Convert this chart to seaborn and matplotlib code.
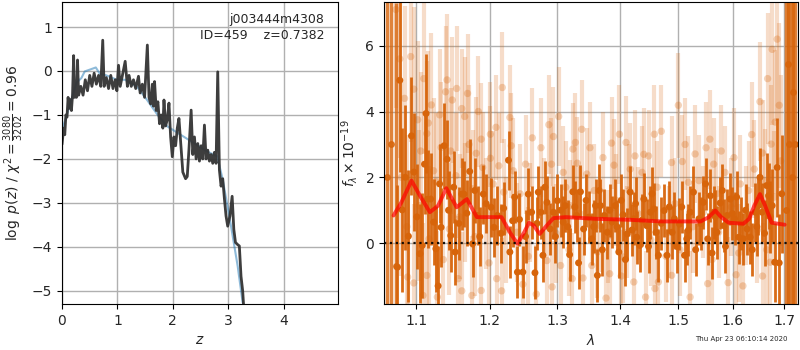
import pandas as pd
import matplotlib
matplotlib.use("Agg")
import matplotlib.pyplot as plt
from matplotlib.ticker import NullLocator
import seaborn as sns

sns.set_style("ticks")
plt.rcParams['font.family'] = ['DejaVu Sans']

# p(z) curve (dark) and smoothed prior curve (blue)
z_pz = [0.00, 0.03, 0.05, 0.07, 0.09, 0.11, 0.13, 0.15, 0.17, 0.19, 0.21, 0.225, 0.24, 0.26,
        0.28, 0.30, 0.34, 0.38, 0.42, 0.46, 0.50, 0.54, 0.58, 0.62, 0.66, 0.70, 0.735, 0.76,
        0.80, 0.84, 0.88, 0.92, 0.96, 0.99, 1.02, 1.05, 1.09, 1.14, 1.18, 1.21, 1.25, 1.29,
        1.33, 1.38, 1.41, 1.45, 1.49, 1.54, 1.57, 1.60, 1.63, 1.65, 1.67, 1.70, 1.73,
        1.76, 1.79, 1.82, 1.84, 1.87, 1.90, 1.93, 1.96, 1.99, 2.02, 2.05, 2.08, 2.11, 2.14,
        2.18, 2.23, 2.26, 2.29, 2.33, 2.36, 2.39, 2.42, 2.45, 2.48, 2.51, 2.54, 2.57, 2.60,
        2.63, 2.66, 2.69, 2.72, 2.75, 2.78, 2.81, 2.84, 2.87, 2.90, 2.93, 2.96, 2.99, 3.03,
        3.07, 3.10, 3.13, 3.17, 3.20, 3.23, 3.26, 3.28]
logp = [-1.67, -1.30, -1.45, -1.00, -1.05, -0.60, -0.85, -0.65, -0.90, -0.55, 0.35, -0.60, -0.40, -0.60,
        0.25, -0.55, -0.35, -0.55, -0.20, -0.45, -0.10, -0.35, -0.05, -0.30, -0.10, -0.35, 0.70, -0.35,
        -0.15, -0.40, -0.10, -0.40, -0.20, -0.45, 0.13, -0.35, -0.10, 0.22, -0.35, -0.10, -0.35, -0.20,
        -0.40, -0.12, -0.50, -0.30, -0.60, 0.59, -0.60, -0.75, -0.30, -0.80, -0.24, -0.90, -0.70,
        -1.20, -1.00, -1.30, -0.66, -1.25, -1.10, -0.73, -1.50, -1.95, -1.50, -1.70, -1.30, -1.08, -1.60,
        -2.30, -2.45, -2.40, -1.80, -0.89, -1.90, -1.50, -2.00, -1.65, -2.05, -1.70, -2.00, -1.23, -2.00,
        -1.80, -2.05, -1.90, -2.10, -1.85, -2.10, -0.02, -2.25, -2.62, -2.45, -2.90, -3.30, -3.53, -3.30,
        -2.85, -3.60, -3.90, -3.95, -3.98, -4.67, -5.00, -5.40]

z_prior = [0.02, 0.10, 0.17, 0.26, 0.35, 0.41, 0.50, 0.61, 0.68, 0.80, 0.99, 1.14, 1.35, 1.53,
           1.72, 1.90, 2.14, 2.38, 2.62, 2.80, 2.90, 3.05, 3.17, 3.26]
logp_prior = [-1.26, -0.95, -0.65, -0.27, -0.16, -0.01, 0.03, 0.08, -0.06, -0.10, -0.20, -0.20,
              -0.35, -0.65, -0.99, -1.26, -1.45, -1.64, -1.83, -1.94, -2.47, -3.53, -4.44, -5.27]

# binned spectrum (dark points)
lam_bin = [1.079, 1.076, 1.082, 1.090, 1.094, 1.097, 1.105, 1.108, 1.113, 1.115, 1.119, 1.123,
           1.126, 1.129, 1.133, 1.137, 1.141, 1.146, 1.150, 1.152, 1.161, 1.164, 1.168, 1.172,
           1.176, 1.183, 1.191, 1.202, 1.206, 1.211, 1.220, 1.227, 1.229, 1.233, 1.240,
           1.243, 1.248, 1.256, 1.261, 1.266, 1.271, 1.275, 1.278, 1.284, 1.289, 1.294, 1.300,
           1.309, 1.312, 1.319, 1.324, 1.330, 1.336, 1.341, 1.349, 1.354, 1.360, 1.363, 1.368,
           1.374, 1.379, 1.387, 1.392, 1.398, 1.405, 1.412, 1.417, 1.423, 1.428, 1.433, 1.440,
           1.445, 1.451, 1.457, 1.461, 1.465, 1.475, 1.480, 1.489, 1.493, 1.502, 1.511, 1.515,
           1.521, 1.527, 1.537, 1.545, 1.553, 1.558, 1.564, 1.570, 1.576, 1.583, 1.589, 1.595,
           1.603, 1.611, 1.620, 1.627, 1.633, 1.643, 1.649, 1.656, 1.665, 1.669, 1.676, 1.681,
           1.686,
           1.086, 1.101, 1.111, 1.131, 1.143, 1.157, 1.179, 1.186, 1.195, 1.216, 1.236, 1.252,
           1.269, 1.281, 1.297, 1.305, 1.316, 1.327, 1.333, 1.345, 1.357, 1.366, 1.371, 1.383,
           1.395, 1.402, 1.409, 1.420, 1.426, 1.437, 1.448, 1.454, 1.470, 1.484, 1.497, 1.506,
           1.518, 1.531, 1.541, 1.549, 1.561, 1.567, 1.580, 1.586, 1.599, 1.607, 1.615, 1.624,
           1.637, 1.646, 1.652, 1.661, 1.672, 1.690, 1.695]
flux_bin = [4.95, -0.73, 1.01, 0.21, 3.26, 2.16, -0.32, -0.07, 3.94, 1.34, 1.34, 0.64,
            -0.17, -1.30, 0.48, 2.96, 2.55, 0.23, 1.70, -0.27, 1.49, 1.49, 0.91, 2.18,
            -0.02, 0.84, 1.49, 1.09, 0.48, 0.84, 1.06, 2.52, -0.27, 0.68, -0.88,
            0.72, -0.88, 1.49, 0.94, -0.90, 1.55, 0.94, -0.37, 1.24, 0.43, 0.94, 1.29,
            0.64, 1.14, -0.35, 1.56, 0.84, 1.56, 0.43, 0.79, 0.13, 1.14, -0.98, 1.14,
            0.84, 0.33, 0.64, 1.14, -0.27, 0.86, 0.28, 1.55, 0.74, 0.18, -0.07, 1.34,
            0.53, 0.94, 1.04, 0.33, -0.37, 0.99, -0.37, 0.33, 0.74, 0.58, -0.37, 0.13,
            0.94, 1.55, 0.74, 1.24, 0.13, 1.44, 0.94, 0.33, 1.22, 0.53, 0.84, 1.34,
            0.74, 0.18, 0.13, 0.43, 0.18, 0.94, 1.14, 0.94, 1.75, 1.44, 1.14, -0.58,
            2.30,
            2.00, 0.80, 2.40, 1.80, 1.00, 0.60, 1.60, 0.20, 1.20, 0.30, 1.40, 0.20,
            0.60, 1.70, 0.20, 1.00, 0.50, 1.10, -0.60, 1.30, 0.50, 1.60, -0.20, 1.00,
            0.50, 1.30, -0.50, 0.40, 1.20, 0.70, -0.10, 1.50, 0.60, 1.10, -0.10, 1.10,
            0.40, -0.20, 0.60, 1.80, -0.30, 0.80, 1.60, -0.10, 0.90, 1.40, 0.60, 1.00,
            -0.20, 0.50, 2.00, 0.30, 0.80, -0.60, 1.50]
err_bin = [2.8, 2.5, 2.5, 2.0, 1.8, 1.8, 1.5, 1.6, 1.8, 1.5, 1.4, 1.3,
           1.3, 1.2, 1.2, 1.3, 1.2, 1.1, 1.1, 1.0, 1.1, 1.0, 1.0, 1.0,
           1.0, 0.9, 0.9, 0.9, 0.9, 0.9, 0.8, 0.9, 0.8, 0.8, 0.8,
           0.8, 0.8, 0.8, 0.8, 0.8, 0.8, 0.8, 0.8, 0.8, 0.8, 0.8, 0.8,
           0.8, 0.8, 0.8, 0.8, 0.8, 0.8, 0.8, 0.8, 0.8, 0.8, 0.8, 0.8,
           0.8, 0.8, 0.8, 0.8, 0.8, 0.8, 0.8, 0.8, 0.8, 0.8, 0.8, 0.8,
           0.8, 0.8, 0.8, 0.8, 0.8, 0.8, 0.8, 0.8, 0.8, 0.8, 0.8, 0.8,
           0.8, 0.8, 0.8, 0.8, 0.8, 0.8, 0.8, 0.8, 0.8, 0.8, 0.8, 0.8,
           0.8, 0.8, 0.8, 0.8, 0.8, 0.9, 0.9, 0.9, 1.0, 1.0, 1.1, 1.2,
           1.5,
           2.2, 1.6, 1.5, 1.2, 1.2, 1.1, 1.0, 0.9, 0.9, 0.9, 0.8, 0.8,
           0.8, 0.8, 0.8, 0.8, 0.8, 0.8, 0.8, 0.8, 0.8, 0.8, 0.8, 0.8,
           0.8, 0.8, 0.8, 0.8, 0.8, 0.8, 0.8, 0.8, 0.8, 0.8, 0.8, 0.8,
           0.8, 0.8, 0.8, 0.8, 0.8, 0.8, 0.8, 0.8, 0.8, 0.8, 0.8, 0.8,
           0.8, 0.9, 0.9, 1.0, 1.1, 1.5, 1.8]

# points at the grism edges with huge uncertainties
lam_edge = [1.063, 1.068, 1.074, 1.703, 1.707, 1.709, 1.716, 1.717, 1.722]
flux_edge = [2.0, 3.0, -0.7, 1.0, 5.43, 3.0, 2.0, 4.6, 3.0]
err_edge = [9.0, 9.0, 8.0, 9.0, 9.0, 9.0, 9.0, 9.0, 9.0]

# individual beam spectrum (light points)
lam_beam = [1.074, 1.079, 1.085, 1.093, 1.097, 1.102, 1.110, 1.116, 1.114, 1.141, 1.139, 1.148,
            1.154, 1.161, 1.165, 1.169, 1.201, 1.218, 1.229, 1.231, 1.209, 1.188, 1.133, 1.089,
            1.097, 1.109, 1.114, 1.128, 1.156, 1.161, 1.175, 1.188, 1.210, 1.217, 1.104, 1.117,
            1.126, 1.144, 1.153, 1.165, 1.176, 1.181, 1.190, 1.201, 1.213, 1.220, 1.239, 1.302,
            1.294, 1.338, 1.328, 1.324, 1.399, 1.386, 1.410, 1.425, 1.458, 1.448, 1.291, 1.309,
            1.331, 1.346, 1.390, 1.417, 1.437, 1.292, 1.305, 1.323, 1.340, 1.354, 1.377, 1.383,
            1.405, 1.423, 1.443, 1.459, 1.284, 1.259, 1.320, 1.368, 1.412, 1.363, 1.500, 1.557,
            1.530, 1.488, 1.507, 1.564, 1.585, 1.641, 1.657, 1.667, 1.676, 1.674, 1.682, 1.690,
            1.661, 1.614, 1.518, 1.465, 1.488, 1.521, 1.553, 1.591, 1.619, 1.657, 1.672, 1.606,
            1.545, 1.573, 1.625, 1.483, 1.248, 1.268, 1.252, 1.275,
            1.081, 1.088, 1.106, 1.120, 1.123, 1.131, 1.136, 1.146, 1.158, 1.171, 1.179, 1.184,
            1.195, 1.199, 1.205, 1.223, 1.234, 1.244, 1.256, 1.262, 1.279, 1.287, 1.298, 1.313,
            1.318, 1.335, 1.351, 1.358, 1.372, 1.380, 1.394, 1.402, 1.415, 1.430, 1.440, 1.452,
            1.463, 1.470, 1.478, 1.494, 1.503, 1.512, 1.526, 1.537, 1.550, 1.561, 1.569, 1.578,
            1.597, 1.602, 1.611, 1.630, 1.636, 1.647, 1.652, 1.665, 1.680, 1.686, 1.693]
flux_beam = [7.10, 5.60, 4.40, 5.67, 4.68, 3.75, 5.00, 3.65, 3.33, 4.96, 4.60, 4.35,
             4.70, 4.09, 3.85, 4.55, 3.31, 4.73, 3.82, 2.96, 3.52, 3.16, 2.91, -1.03,
             -1.21, -1.59, -0.98, -1.64, -1.08, -1.45, -1.59, -1.44, -1.08, -1.45, 1.14, 0.13,
             1.87, 0.43, 2.05, 1.24, 1.65, 2.73, 2.30, 2.58, 2.35, 1.55, 0.33, 3.85,
             3.24, 3.46, 3.06, 2.86, 3.31, 3.04, 3.06, 2.65, 3.31, 2.65, 2.40, 2.15,
             2.43, 2.10, 2.37, 2.25, 2.15, -1.33, -0.68, -1.08, -1.06, -0.68, -1.67, -0.93,
             -0.42, -1.18, -1.64, -1.38, -0.53, 0.94, 1.14, 0.53, 0.33, -0.27, 4.19, 3.16,
             2.71, 2.45, 2.48, 2.40, 2.15, 2.25, 2.74, 5.00, 5.89, 3.01, 3.68, 4.19,
             1.87, 1.80, 1.85, -1.18, -0.98, -1.64, -1.23, -1.20, -1.30, -1.00, -0.58, -0.96,
             0.94, 0.33, 0.84, 0.33, -1.25, -1.55, 2.40, 2.90,
             2.00, 0.50, 2.80, 4.20, 2.20, 3.90, -0.50, 2.80, 0.80, 3.00, 0.20, 4.00,
             0.90, -0.60, 1.80, 0.40, 2.20, 1.50, -0.40, 3.20, 1.10, 3.60, 0.30, 1.70,
             -0.20, 0.90, 2.90, 1.60, 2.60, 0.20, 1.30, -1.00, 1.60, 0.90, 2.70, 0.10,
             1.70, 3.40, -0.40, 1.20, -0.20, 3.00, 0.50, 1.90, 2.90, -0.50, 1.50, 2.80,
             1.10, 2.60, -0.30, 1.60, 3.30, 0.40, 4.30, -0.20, 1.40, 6.20, 2.50]
err_beam = [3.0, 3.0, 2.8, 2.6, 2.5, 2.4, 2.3, 2.2, 2.2, 2.0, 2.0, 1.9,
            1.9, 1.8, 1.8, 1.8, 1.6, 1.7, 1.6, 1.6, 1.6, 1.7, 2.0, 2.5,
            2.4, 2.2, 2.2, 2.0, 1.9, 1.8, 1.8, 1.7, 1.6, 1.6, 2.3, 2.2,
            2.1, 2.0, 1.9, 1.8, 1.8, 1.7, 1.7, 1.6, 1.6, 1.6, 1.5, 1.5,
            1.5, 1.5, 1.5, 1.4, 1.5, 1.4, 1.4, 1.4, 1.5, 1.4, 1.4, 1.4,
            1.4, 1.4, 1.4, 1.4, 1.4, 1.4, 1.4, 1.4, 1.4, 1.4, 1.4, 1.4,
            1.4, 1.4, 1.4, 1.4, 1.4, 1.5, 1.4, 1.4, 1.4, 1.4, 1.6, 1.5,
            1.5, 1.4, 1.4, 1.4, 1.4, 1.5, 1.6, 2.0, 2.3, 1.8, 2.2, 2.5,
            1.6, 1.5, 1.4, 1.4, 1.4, 1.4, 1.4, 1.4, 1.5, 1.6, 1.8, 1.5,
            1.4, 1.4, 1.5, 1.4, 1.5, 1.5, 1.5, 1.5,
            3.0, 2.8, 2.4, 2.2, 2.2, 2.0, 2.0, 1.9, 1.9, 1.8, 1.8, 1.7,
            1.7, 1.7, 1.6, 1.6, 1.6, 1.5, 1.5, 1.5, 1.5, 1.5, 1.5, 1.4,
            1.4, 1.4, 1.4, 1.4, 1.4, 1.4, 1.4, 1.4, 1.4, 1.4, 1.4, 1.4,
            1.4, 1.4, 1.4, 1.4, 1.4, 1.4, 1.4, 1.4, 1.4, 1.4, 1.4, 1.4,
            1.5, 1.5, 1.5, 1.5, 1.6, 1.6, 1.8, 1.7, 2.0, 2.5, 2.6]

# best-fit model
lam_model = [1.071, 1.081, 1.094, 1.105, 1.118, 1.129, 1.140, 1.154, 1.168, 1.182, 1.200, 1.217,
             1.229, 1.240, 1.250, 1.257, 1.264, 1.273, 1.284, 1.294, 1.313, 1.360, 1.415, 1.470,
             1.540, 1.555, 1.567, 1.578, 1.592, 1.620, 1.631, 1.641, 1.652, 1.662, 1.675, 1.701]
flux_model = [0.84, 1.24, 1.90, 1.44, 0.94, 1.14, 1.67, 1.09, 1.34, 0.79, 0.79, 0.79,
              0.33, -0.02, 0.33, 0.62, 0.54, 0.28, 0.54, 0.76, 0.79, 0.74, 0.71, 0.66,
              0.66, 0.79, 0.99, 0.79, 0.62, 0.59, 0.74, 1.14, 1.49, 1.14, 0.62, 0.56]

dark = '#d7640a'

fig = plt.figure(figsize=(8, 3.5), dpi=100)
ax1 = fig.add_axes([0.0775, 0.1314, 0.345, 0.863])
ax2 = fig.add_axes([0.48, 0.1314, 0.5175, 0.863])

# --- p(z) panel
sns.lineplot(x=z_prior, y=logp_prior, ax=ax1, color='tab:blue', alpha=0.5, lw=1.5)
sns.lineplot(x=z_pz, y=logp, ax=ax1, color='0.2', alpha=0.95, lw=2)
ax1.set_xlim(0, 4.98)
ax1.set_ylim(-5.3, 1.57)
ax1.set_xticks([0, 1, 2, 3, 4])
ax1.set_yticks([-5, -4, -3, -2, -1, 0, 1])
ax1.grid(True, color='#b0b0b0', lw=1)
ax1.set_xlabel('$z$', fontsize=10)
ax1.set_ylabel(r'$\log\ p(z)$ / $\chi^2=\frac{3080}{3202}=0.96$', fontsize=10)
ax1.text(0.95, 0.965, 'j003444m4308\nID=459    z=0.7382', ha='right', va='top',
         transform=ax1.transAxes, fontsize=9, linespacing=1.3)

# --- spectrum panel
beam = pd.DataFrame({'lam': lam_beam, 'flux': flux_beam})
binned = pd.DataFrame({'lam': lam_bin, 'flux': flux_bin})
ax2.errorbar(lam_beam, flux_beam, yerr=err_beam, fmt='none', ecolor=dark, alpha=0.22,
             elinewidth=3, zorder=1)
sns.scatterplot(data=beam, x='lam', y='flux', ax=ax2, color=dark, alpha=0.28, s=28,
                edgecolor='none', zorder=1)
ax2.errorbar(lam_edge, flux_edge, yerr=err_edge, fmt='o', color=dark, alpha=0.8,
             elinewidth=2.5, ms=4, zorder=2)
ax2.errorbar(lam_bin, flux_bin, yerr=err_bin, fmt='none', ecolor=dark, alpha=0.95,
             elinewidth=2, zorder=2)
sns.scatterplot(data=binned, x='lam', y='flux', ax=ax2, color=dark, s=25,
                edgecolor='none', zorder=3)
sns.lineplot(x=lam_model, y=flux_model, ax=ax2, color='red', alpha=0.7, lw=2.8, zorder=4)
ax2.axhline(0, color='k', ls=':', lw=1.6, alpha=0.9, zorder=5)

ax2.set_xscale('log')
ax2.set_xlim(1.059, 1.728)
ax2.set_ylim(-1.85, 7.33)
xt = [1.1, 1.2, 1.3, 1.4, 1.5, 1.6, 1.7]
ax2.set_xticks(xt)
ax2.set_xticklabels([f'{v:.1f}' for v in xt])
ax2.xaxis.set_minor_locator(NullLocator())
ax2.set_yticks([0, 2, 4, 6])
ax2.grid(True, color='#b0b0b0', lw=1, zorder=0)
ax2.set_axisbelow(True)
ax2.set_xlabel(r'$\lambda$', fontsize=10)
ax2.set_ylabel(r'$f_\lambda\times 10^{-19}$', fontsize=10)

for ax in (ax1, ax2):
    ax.tick_params(labelsize=10, color='k')
    for s in ax.spines.values():
        s.set_color('k')

fig.text(0.985, 0.022, 'Thu Apr 23 06:10:14 2020', ha='right', va='bottom', fontsize=5)

fig.savefig('out.png', dpi=100)
